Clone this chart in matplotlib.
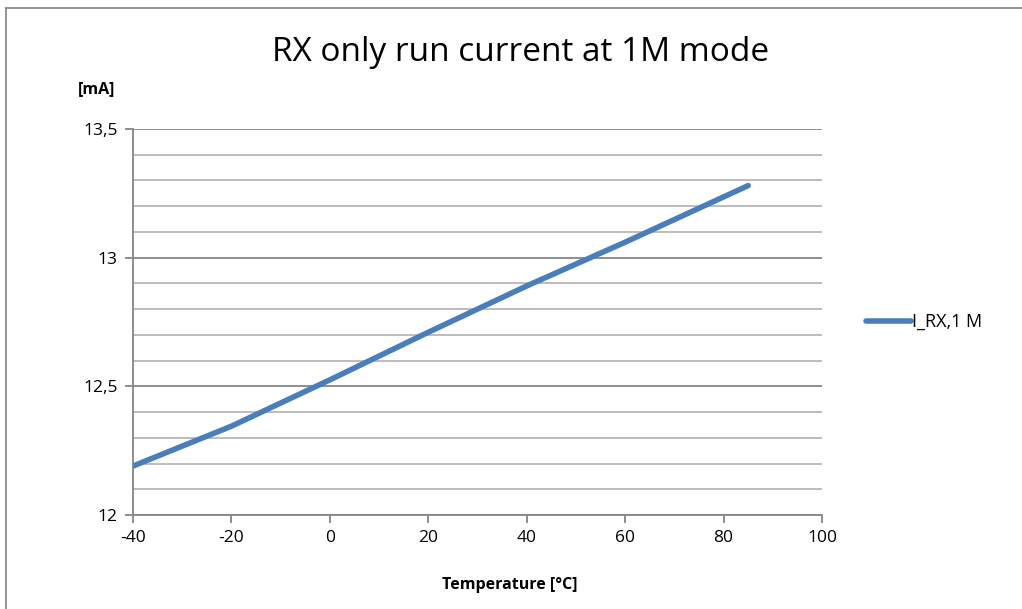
import matplotlib
matplotlib.use("Agg")
import matplotlib.pyplot as plt
from matplotlib.lines import Line2D
from matplotlib.ticker import MultipleLocator, FuncFormatter

# data
temps = [-40, -20, 0, 20, 40, 60, 85]
i_rx = [12.19, 12.345, 12.525, 12.71, 12.89, 13.06, 13.28]

series_label = "I_RX,1 M"
title = "RX only run current at 1M mode"
xlabel = "Temperature [°C]"
ylabel = "[mA]"

plt.rcParams['font.family'] = ['Open Sans', 'DejaVu Sans']
plt.rcParams['axes.unicode_minus'] = False

fig = plt.figure(figsize=(10.22, 6.09), dpi=100)
ax = fig.add_axes([0.1301, 0.1544, 0.6742, 0.6338])

# outer chart border (only left and top edges are visible)
bx, by = 5.5 / 1022, 1 - 7.5 / 609
fig.add_artist(Line2D([bx, bx], [-0.1, by], transform=fig.transFigure, color='#8c8c8c', linewidth=1.3))
fig.add_artist(Line2D([bx, 1.1], [by, by], transform=fig.transFigure, color='#8c8c8c', linewidth=1.3))

ax.plot(temps, i_rx, color='#4a7ebb', linewidth=4, solid_capstyle='round', label=series_label)

ax.set_xlim(-40, 100)
ax.set_ylim(12, 13.5)
ax.xaxis.set_major_locator(MultipleLocator(20))
ax.yaxis.set_major_locator(MultipleLocator(0.5))
ax.yaxis.set_minor_locator(MultipleLocator(0.1))
ax.yaxis.set_major_formatter(FuncFormatter(lambda v, p: ('%g' % v).replace('.', ',')))

ax.grid(True, which='major', axis='y', color='#868686', linewidth=1.3)
ax.grid(True, which='minor', axis='y', color='#b8b8b8', linewidth=1.3)
ax.set_axisbelow(True)

for s in ['top', 'right']:
    ax.spines[s].set_visible(False)
for s in ['left', 'bottom']:
    ax.spines[s].set_color('#868686')
    ax.spines[s].set_linewidth(1.3)

ax.tick_params(axis='both', which='major', direction='out', length=6, width=1.3,
               color='#868686', labelsize=12.5, pad=5)
ax.tick_params(axis='y', which='minor', length=0)

fig.text(0.509, 0.914, title, ha='center', va='center', fontsize=24)
fig.text(0.094, 0.853, ylabel, ha='center', va='center', fontsize=11.5, fontweight='bold')
fig.text(0.4985, 0.040, xlabel, ha='center', va='center', fontsize=11.5, fontweight='bold')

leg = ax.legend(loc='center left', bbox_to_anchor=(1.04, 0.5), frameon=False,
                fontsize=13, handlelength=2.5, handletextpad=0.05)

fig.savefig("out.png", dpi=100)
